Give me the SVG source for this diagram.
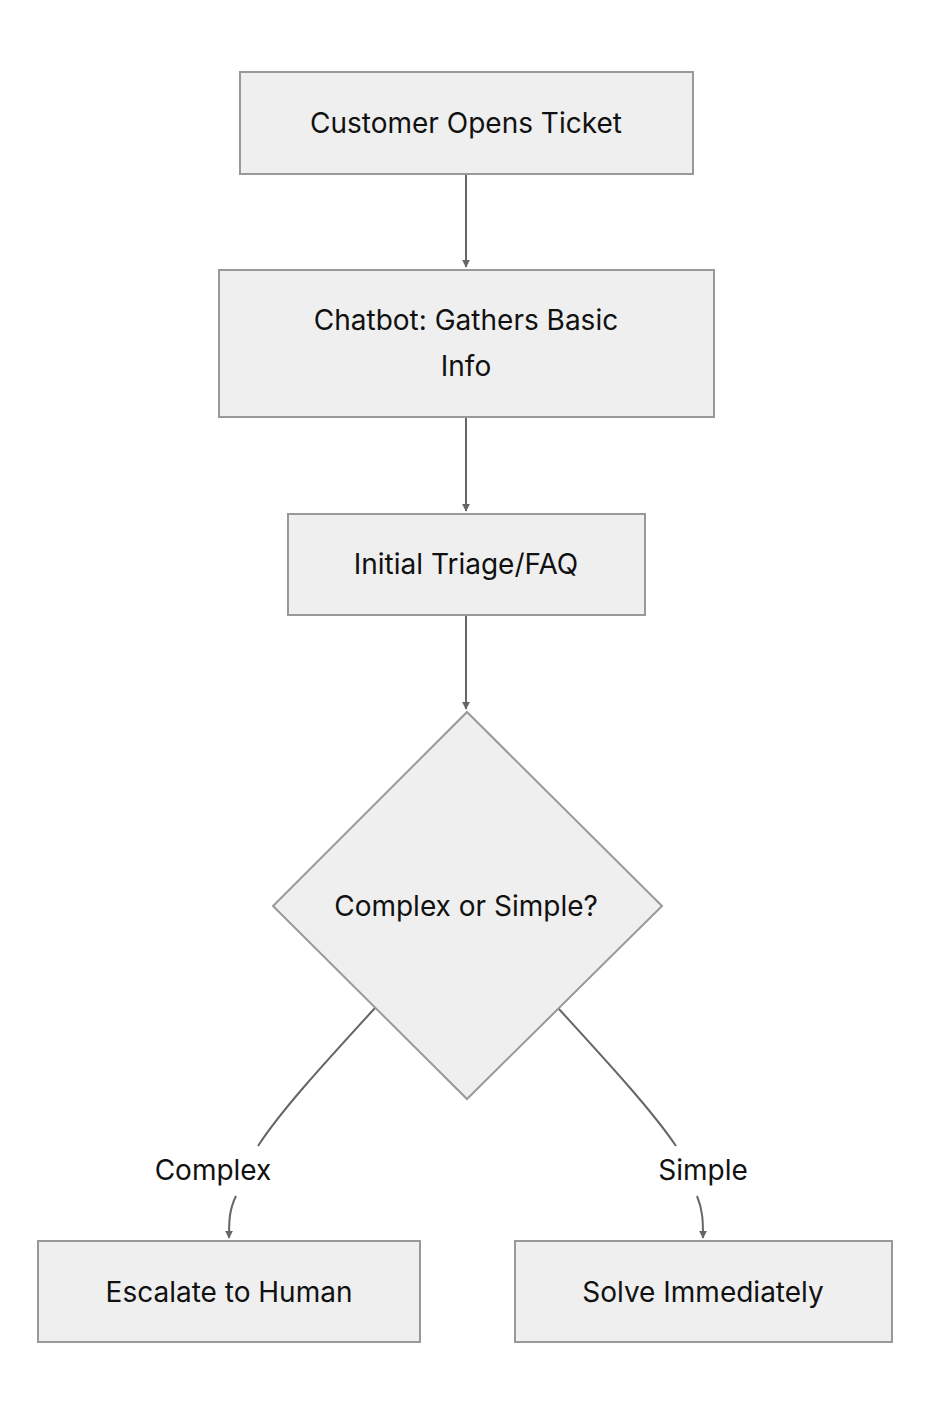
<svg xmlns="http://www.w3.org/2000/svg" width="930" height="1416" viewBox="0 0 930 1416">
<style>
.n{fill:#efefef;stroke:#999;stroke-width:2}
.t{font-family:Inter,"Liberation Sans",sans-serif;font-size:28px;fill:#111;text-anchor:middle;dominant-baseline:central}
.e{fill:none;stroke:#666;stroke-width:2}
</style>
<defs><marker id="a" viewBox="0 0 10 10" refX="9" refY="5" markerWidth="8" markerHeight="8" markerUnits="userSpaceOnUse" orient="auto"><path d="M0,0L10,5L0,10z" fill="#666"/></marker></defs>
<rect width="930" height="1416" fill="#fff"/>
<g id="edges">
<path class="e" d="M466,175V267" marker-end="url(#a)" style="marker-end:url(#a)"/>
<path class="e" d="M466,418V511" marker-end="url(#a)"/>
<path class="e" d="M466,616V709" marker-end="url(#a)"/>
<path class="e" d="M375,1008C320,1068 280,1112 258,1146"/>
<path class="e" d="M236,1196C229,1210 229,1222 229,1238" marker-end="url(#a)"/>
<text class="t" x="213" y="1170">Complex</text>
<path class="e" d="M558,1008C613,1068 653,1112 676,1146"/>
<path class="e" d="M697,1196C703,1210 703,1222 703,1238" marker-end="url(#a)"/>
<text class="t" x="703" y="1170">Simple</text>
</g>
<g id="n1"><rect class="n" x="240" y="72" width="453" height="102"/><text class="t" x="466" y="123">Customer Opens Ticket</text></g>
<g id="n2"><rect class="n" x="219" y="270" width="495" height="147"/><text class="t" x="466" y="320">Chatbot: Gathers Basic</text><text class="t" x="466" y="366">Info</text></g>
<g id="n3"><rect class="n" x="288" y="514" width="357" height="101"/><text class="t" x="466" y="564">Initial Triage/FAQ</text></g>
<g id="n4"><polygon class="n" points="467,712 662,906 467,1099 273,906"/><text class="t" x="466" y="906">Complex or Simple?</text></g>
<g id="n5"><rect class="n" x="38" y="1241" width="382" height="101"/><text class="t" x="229" y="1292">Escalate to Human</text></g>
<g id="n6"><rect class="n" x="515" y="1241" width="377" height="101"/><text class="t" x="703" y="1292">Solve Immediately</text></g>
</svg>
